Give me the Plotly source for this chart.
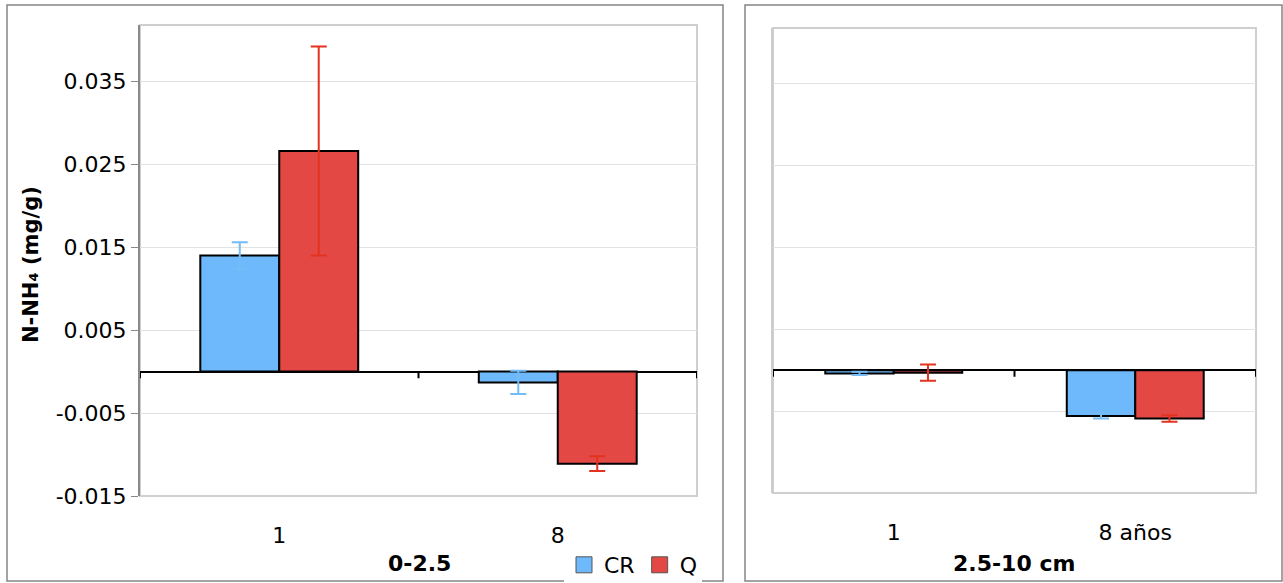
import plotly.graph_objects as go

W, H = 1283, 583

# ---- data ----
cats_left = ["1", "8"]
cats_right = ["1", "8 años"]
cr_left = [0.0140, -0.0013]
cr_left_err = [0.0016, 0.0014]
q_left = [0.0266, -0.0111]
q_left_err = [0.0126, 0.0009]
cr_right = [-0.0004, -0.0056]
cr_right_err = [0.0002, 0.0003]
q_right = [-0.0003, -0.0059]
q_right_err = [0.0010, 0.0004]
ytick_vals = [-0.015, -0.005, 0.005, 0.015, 0.025, 0.035]
ytick_text = ["-0.015", "-0.005", "0.005", "0.015", "0.025", "0.035"]
yrange = [-0.015, 0.0418]

BLUE = "#6db9fb"
RED = "#e44844"
BLUE_ERR = "#74bcf6"
RED_ERR = "#e3321f"
FONT = "DejaVu Sans"

def px(x):
    return x / W

def py(y):
    return 1 - y / H

fig = go.Figure()

def add_bars(cats, vals, errs, name, color, ecolor, xa, ya):
    fig.add_trace(go.Bar(
        x=cats, y=vals, name=name, xaxis=xa, yaxis=ya, showlegend=False,
        marker=dict(color=color, line=dict(color="black", width=2)),
        error_y=dict(type="data", array=errs, visible=True, color=ecolor,
                     thickness=2, width=8),
    ))

add_bars(cats_left, cr_left, cr_left_err, "CR", BLUE, BLUE_ERR, "x", "y")
add_bars(cats_left, q_left, q_left_err, "Q", RED, RED_ERR, "x", "y")
add_bars(cats_right, cr_right, cr_right_err, "CR", BLUE, BLUE_ERR, "x2", "y2")
add_bars(cats_right, q_right, q_right_err, "Q", RED, RED_ERR, "x2", "y2")

# legend entries (square swatches)
for name, color in [("CR", BLUE), ("Q", RED)]:
    fig.add_trace(go.Scatter(
        x=[None], y=[None], name=name, mode="markers", xaxis="x", yaxis="y",
        marker=dict(symbol="square", size=16, color=color,
                    line=dict(color="#555555", width=1)),
        showlegend=True,
    ))

L_dom_x = [px(140), px(697)]
L_dom_y = [py(496), py(25)]
R_dom_x = [px(773), px(1256)]
R_dom_y = [py(493), py(28)]

common_x = dict(type="category", showgrid=False, zeroline=False, showline=False,
                ticks="", tickfont=dict(family=FONT, size=22, color="black"),
                ticklabelstandoff=24, automargin=False)
common_y = dict(range=yrange, tickvals=ytick_vals, showgrid=True,
                gridcolor="#e2e2e2", gridwidth=1, zeroline=True,
                zerolinecolor="black", zerolinewidth=2, automargin=False)

fig.update_layout(
    width=W, height=H, margin=dict(l=0, r=0, t=0, b=0, autoexpand=False),
    paper_bgcolor="white", plot_bgcolor="white",
    barmode="group", bargap=0.433, bargroupgap=0,
    xaxis=dict(domain=L_dom_x, anchor="y", range=[-0.5, 1.5], **common_x),
    yaxis=dict(domain=L_dom_y, anchor="x", ticktext=ytick_text,
               ticks="outside", ticklen=7, tickcolor="#888888", tickwidth=1,
               showline=True, linecolor="#8a8a8a", linewidth=2,
               tickfont=dict(family=FONT, size=22, color="black"),
               **common_y),
    xaxis2=dict(domain=R_dom_x, anchor="y2", range=[-0.5, 1.5], **common_x),
    yaxis2=dict(domain=R_dom_y, anchor="x2", showticklabels=False, ticks="",
                showline=True, linecolor="#cccccc", linewidth=2,
                **common_y),
    legend=dict(orientation="h", x=px(702), xanchor="right", y=py(586),
                yanchor="bottom", bgcolor="white",
                font=dict(family=FONT, size=22, color="black"),
                itemwidth=30, tracegroupgap=0, itemsizing="trace"),
    font=dict(family=FONT),
)

shapes = []
# outer panel boxes
shapes.append(dict(type="rect", xref="paper", yref="paper",
                   x0=px(7), x1=px(723), y0=py(581), y1=py(5),
                   line=dict(color="#858585", width=1.5), layer="below"))
shapes.append(dict(type="rect", xref="paper", yref="paper",
                   x0=px(745), x1=px(1282), y0=py(581), y1=py(5),
                   line=dict(color="#858585", width=1.5), layer="below"))
# plot area frames
for xr, yr in [("x domain", "y domain"), ("x2 domain", "y2 domain")]:
    shapes.append(dict(type="rect", xref=xr, yref=yr, x0=0, x1=1, y0=0, y1=1,
                       line=dict(color="#cfcfcf", width=2), layer="below"))
# category boundary ticks on the zero line
for xr, yr in [("x", "y"), ("x2", "y2")]:
    for xv in [-0.5, 0.5, 1.5]:
        shapes.append(dict(type="line", xref=xr, yref=yr, x0=xv, x1=xv,
                           y0=0, y1=-0.0008, line=dict(color="black", width=2)))
fig.update_layout(shapes=shapes)

fig.update_layout(annotations=[
    dict(text="<b>0-2.5</b>", xref="paper", yref="paper", x=px(419), y=py(563),
         xanchor="center", yanchor="middle",
         showarrow=False, font=dict(family=FONT, size=22, color="black")),
    dict(text="<b>2.5-10 cm</b>", xref="paper", yref="paper", x=px(1014), y=py(563),
         xanchor="center", yanchor="middle",
         showarrow=False, font=dict(family=FONT, size=22, color="black")),
    dict(text="<b>N-NH₄ (mg/g)</b>", xref="paper", yref="paper", x=px(31), y=py(265),
         xanchor="center", yanchor="middle",
         textangle=-90, showarrow=False, font=dict(family=FONT, size=21, color="black")),
])

page_css = (
    "var de=document.documentElement, b=document.body;"
    "de.style.margin='0';de.style.padding='0';de.style.overflow='hidden';"
    "de.style.height='583px';"
    "b.style.margin='0';b.style.padding='0';b.style.overflow='hidden';"
    "b.style.height='583px';"
)

fig.write_html("out.html", config={"displayModeBar": False}, post_script=page_css)
